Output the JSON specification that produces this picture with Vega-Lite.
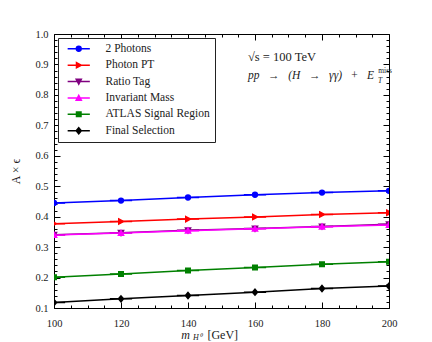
{
  "$schema": "https://vega.github.io/schema/vega-lite/v6.json",
  "width": 335,
  "height": 274,
  "autosize": {"type": "none"},
  "padding": {"left": 54, "top": 34, "right": 43, "bottom": 34},
  "background": "white",
  "config": {
    "view": {"stroke": "black", "strokeWidth": 1},
    "font": "Liberation Serif",
    "axis": {
      "domain": false,
      "grid": false,
      "tickColor": "black",
      "tickWidth": 1,
      "labelFlush": false,
      "labelFont": "Liberation Serif",
      "labelFontSize": 10.5,
      "labelColor": "#222",
      "titleFont": "Liberation Serif",
      "titleFontWeight": "normal",
      "titleFontSize": 12,
      "titleColor": "#222"
    }
  },
  "datasets": {
    "d": [
      {"x": 100, "y": 0.445, "series": "2 Photons"},
      {"x": 120, "y": 0.453, "series": "2 Photons"},
      {"x": 140, "y": 0.463, "series": "2 Photons"},
      {"x": 160, "y": 0.472, "series": "2 Photons"},
      {"x": 180, "y": 0.479, "series": "2 Photons"},
      {"x": 200, "y": 0.485, "series": "2 Photons"},
      {"x": 100, "y": 0.377, "series": "Photon PT"},
      {"x": 120, "y": 0.384, "series": "Photon PT"},
      {"x": 140, "y": 0.392, "series": "Photon PT"},
      {"x": 160, "y": 0.399, "series": "Photon PT"},
      {"x": 180, "y": 0.407, "series": "Photon PT"},
      {"x": 200, "y": 0.413, "series": "Photon PT"},
      {"x": 100, "y": 0.341, "series": "Ratio Tag"},
      {"x": 120, "y": 0.347, "series": "Ratio Tag"},
      {"x": 140, "y": 0.355, "series": "Ratio Tag"},
      {"x": 160, "y": 0.361, "series": "Ratio Tag"},
      {"x": 180, "y": 0.368, "series": "Ratio Tag"},
      {"x": 200, "y": 0.375, "series": "Ratio Tag"},
      {"x": 100, "y": 0.340, "series": "Invariant Mass"},
      {"x": 120, "y": 0.346, "series": "Invariant Mass"},
      {"x": 140, "y": 0.354, "series": "Invariant Mass"},
      {"x": 160, "y": 0.360, "series": "Invariant Mass"},
      {"x": 180, "y": 0.367, "series": "Invariant Mass"},
      {"x": 200, "y": 0.373, "series": "Invariant Mass"},
      {"x": 100, "y": 0.201, "series": "ATLAS Signal Region"},
      {"x": 120, "y": 0.212, "series": "ATLAS Signal Region"},
      {"x": 140, "y": 0.223, "series": "ATLAS Signal Region"},
      {"x": 160, "y": 0.233, "series": "ATLAS Signal Region"},
      {"x": 180, "y": 0.244, "series": "ATLAS Signal Region"},
      {"x": 200, "y": 0.252, "series": "ATLAS Signal Region"},
      {"x": 100, "y": 0.118, "series": "Final Selection"},
      {"x": 120, "y": 0.130, "series": "Final Selection"},
      {"x": 140, "y": 0.141, "series": "Final Selection"},
      {"x": 160, "y": 0.152, "series": "Final Selection"},
      {"x": 180, "y": 0.164, "series": "Final Selection"},
      {"x": 200, "y": 0.172, "series": "Final Selection"}
    ]
  },
  "resolve": {"axis": {"x": "independent", "y": "independent"}},
  "layer": [
    {
      "data": {"name": "d"},
      "mark": {"type": "line", "strokeWidth": 1.5, "clip": true},
      "encoding": {
        "x": {
          "field": "x", "type": "quantitative",
          "scale": {"domain": [100, 200], "nice": false, "zero": false},
          "axis": {
            "orient": "bottom",
            "title": null,
            "values": [100,105,110,115,120,125,130,135,140,145,150,155,160,165,170,175,180,185,190,195,200],
            "labelExpr": "datum.value % 20 === 0 ? datum.label : ''",
            "tickSize": {"condition": {"test": "datum.value % 20 === 0", "value": -6}, "value": -3},
            "labelPadding": 16
          }
        },
        "y": {
          "field": "y", "type": "quantitative",
          "scale": {"domain": [0.1, 1.0], "nice": false, "zero": false},
          "axis": {
            "orient": "left",
            "title": "A × ϵ",
            "titlePadding": 12,
            "values": [0.1,0.12,0.14,0.16,0.18,0.2,0.22,0.24,0.26,0.28,0.3,0.32,0.34,0.36,0.38,0.4,0.42,0.44,0.46,0.48,0.5,0.52,0.54,0.56,0.58,0.6,0.62,0.64,0.66,0.68,0.7,0.72,0.74,0.76,0.78,0.8,0.82,0.84,0.86,0.88,0.9,0.92,0.94,0.96,0.98,1.0],
            "format": ".1f",
            "labelExpr": "round(datum.value*100) % 10 === 0 ? datum.label : ''",
            "tickSize": {"condition": {"test": "round(datum.value*100) % 10 === 0", "value": -6}, "value": -3},
            "labelPadding": 12
          }
        },
        "color": {
          "field": "series", "type": "nominal",
          "scale": {
            "domain": ["2 Photons", "Photon PT", "Ratio Tag", "Invariant Mass", "ATLAS Signal Region", "Final Selection"],
            "range": ["#0000ff", "#ff0000", "#800080", "#ff00ff", "#008000", "#000000"]
          }
        }
      }
    },
    {
      "data": {"name": "d"},
      "mark": {"type": "point", "filled": true, "opacity": 1, "strokeWidth": 1.5, "clip": true},
      "encoding": {
        "x": {
          "field": "x", "type": "quantitative",
          "axis": {
            "orient": "top",
            "title": null,
            "labels": false,
            "values": [100,105,110,115,120,125,130,135,140,145,150,155,160,165,170,175,180,185,190,195,200],
            "tickSize": {"condition": {"test": "datum.value % 20 === 0", "value": -6}, "value": -3}
          }
        },
        "y": {
          "field": "y", "type": "quantitative",
          "axis": {
            "orient": "right",
            "title": null,
            "labels": false,
            "values": [0.1,0.12,0.14,0.16,0.18,0.2,0.22,0.24,0.26,0.28,0.3,0.32,0.34,0.36,0.38,0.4,0.42,0.44,0.46,0.48,0.5,0.52,0.54,0.56,0.58,0.6,0.62,0.64,0.66,0.68,0.7,0.72,0.74,0.76,0.78,0.8,0.82,0.84,0.86,0.88,0.9,0.92,0.94,0.96,0.98,1.0],
            "tickSize": {"condition": {"test": "round(datum.value*100) % 10 === 0", "value": -6}, "value": -3}
          }
        },
        "size": {"value": 36},
        "color": {
          "field": "series", "type": "nominal",
          "legend": {
            "orient": "none",
            "legendX": 4,
            "legendY": 4,
            "title": null,
            "fillColor": "white",
            "strokeColor": "#222",
            "padding": 5,
            "symbolOffset": 10,
            "labelOffset": 21,
            "rowPadding": 3.4,
            "labelFont": "Liberation Serif",
            "labelFontSize": 11.5,
            "labelColor": "#222",
            "symbolSize": 36,
            "symbolStrokeWidth": 1.5,
            "cornerRadius": 0
          }
        },
        "stroke": {
          "field": "series", "type": "nominal",
          "scale": {
            "domain": ["2 Photons", "Photon PT", "Ratio Tag", "Invariant Mass", "ATLAS Signal Region", "Final Selection"],
            "range": ["#0000ff", "#ff0000", "#800080", "#ff00ff", "#008000", "#000000"]
          }
        },
        "shape": {
          "field": "series", "type": "nominal",
          "scale": {
            "domain": ["2 Photons", "Photon PT", "Ratio Tag", "Invariant Mass", "ATLAS Signal Region", "Final Selection"],
            "range": [
              "M-3.7,0H3.7M0.8,0A0.8,0.8 0 1,1 -0.8,0A0.8,0.8 0 1,1 0.8,0Z",
              "M-3.7,0H3.7M-0.75,-0.85L0.85,0L-0.75,0.85Z",
              "M-3.7,0H3.7M-0.85,-0.75L0.85,-0.75L0,0.85Z",
              "M-3.7,0H3.7M-0.85,0.75L0.85,0.75L0,-0.85Z",
              "M-3.7,0H3.7M-0.75,-0.75H0.75V0.75H-0.75Z",
              "M-3.7,0H3.7M0,-1L0.85,0L0,1L-0.85,0Z"
            ]
          }
        }
      }
    },
    {
      "data": {"values": [{}]},
      "mark": {"type": "text", "align": "left", "baseline": "middle", "fontSize": 12.5, "font": "Liberation Serif", "color": "#222"},
      "encoding": {
        "x": {"datum": 157.9, "type": "quantitative", "axis": null},
        "y": {"datum": 0.924, "type": "quantitative", "axis": null},
        "text": {"value": "√s = 100 TeV"}
      }
    },
    {
      "data": {"values": [{}]},
      "mark": {"type": "text", "align": "left", "baseline": "middle", "fontSize": 11.5, "fontStyle": "italic", "font": "Liberation Serif", "color": "#222"},
      "encoding": {
        "x": {"datum": 157.9, "type": "quantitative", "axis": null},
        "y": {"datum": 0.862, "type": "quantitative", "axis": null},
        "text": {"value": "pp \u2002→ \u2002(H \u2002→ \u2002γγ) \u2002+ \u2002E"}
      }
    },
    {
      "data": {"values": [{}]},
      "mark": {"type": "text", "align": "left", "baseline": "middle", "fontSize": 7.5, "font": "Liberation Serif", "color": "#222"},
      "encoding": {
        "x": {"datum": 196.8, "type": "quantitative", "axis": null},
        "y": {"datum": 0.879, "type": "quantitative", "axis": null},
        "text": {"value": "miss"}
      }
    },
    {
      "data": {"values": [{}]},
      "mark": {"type": "text", "align": "left", "baseline": "middle", "fontSize": 7.5, "fontStyle": "italic", "font": "Liberation Serif", "color": "#222"},
      "encoding": {
        "x": {"datum": 196.7, "type": "quantitative", "axis": null},
        "y": {"datum": 0.846, "type": "quantitative", "axis": null},
        "text": {"value": "T"}
      }
    },
    {
      "data": {"values": [{}]},
      "mark": {"type": "text", "align": "left", "baseline": "middle", "fontSize": 12, "fontStyle": "italic", "font": "Liberation Serif", "color": "#222"},
      "encoding": {
        "x": {"datum": 138.0, "type": "quantitative", "axis": null},
        "y": {"datum": 0.012, "type": "quantitative", "axis": null},
        "text": {"value": "m"}
      }
    },
    {
      "data": {"values": [{}]},
      "mark": {"type": "text", "align": "left", "baseline": "middle", "fontSize": 8, "fontStyle": "italic", "font": "Liberation Serif", "color": "#222"},
      "encoding": {
        "x": {"datum": 141.5, "type": "quantitative", "axis": null},
        "y": {"datum": 0.001, "type": "quantitative", "axis": null},
        "text": {"value": "H⁰"}
      }
    },
    {
      "data": {"values": [{}]},
      "mark": {"type": "text", "align": "left", "baseline": "middle", "fontSize": 12, "font": "Liberation Serif", "color": "#222"},
      "encoding": {
        "x": {"datum": 145.8, "type": "quantitative", "axis": null},
        "y": {"datum": 0.012, "type": "quantitative", "axis": null},
        "text": {"value": "[GeV]"}
      }
    }
  ]
}
